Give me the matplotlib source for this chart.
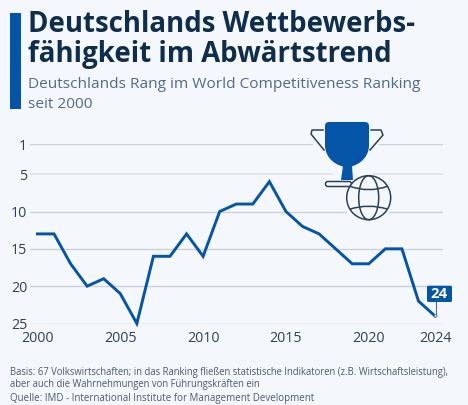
import numpy as np
import matplotlib
matplotlib.use('Agg')
from matplotlib import pyplot as plt
from matplotlib.patches import Rectangle, FancyBboxPatch, Ellipse, Circle, PathPatch
from matplotlib.path import Path

plt.rcParams['font.family'] = ['Open Sans', 'DejaVu Sans']

years = list(range(2000, 2025))
rank = [13, 13, 17, 20, 19, 21, 25, 16, 16, 13, 16, 10, 9, 9, 6, 10, 12, 13, 15, 17, 17, 15, 15, 22, 24]
y_ticks = [1, 5, 10, 15, 20, 25]
x_ticks = [2000, 2005, 2010, 2015, 2020, 2024]
title_lines = ['Deutschlands Wettbewerbs-', 'fähigkeit im Abwärtstrend']
subtitle_lines = ['Deutschlands Rang im World Competitiveness Ranking', 'seit 2000']
note_lines = ['Basis: 67 Volkswirtschaften; in das Ranking fließen statistische Indikatoren (z.B. Wirtschaftsleistung),',
              'aber auch die Wahrnehmungen von Führungskräften ein',
              'Quelle: IMD - International Institute for Management Development']

BG = '#f4f8fc'
BLUE = '#0454a8'
NAVY = '#0f2d4d'
DARK = '#2c4058'
W, H = 468, 405

fig = plt.figure(figsize=(W / 100, H / 100), dpi=100, facecolor=BG)

# chart axes, pixel box
ax = fig.add_axes([30 / W, 1 - 323.5 / H, 413 / W, 179.2 / H], facecolor='none')
ax.set_xlim(1999.55, 2024.48)
ax.set_ylim(25, 1)
for s in ax.spines.values():
    s.set_visible(False)
ax.set_yticks(y_ticks)
ax.set_xticks(x_ticks)
ax.tick_params(axis='y', length=0, labelsize=10.3, labelcolor='#2f4058', pad=2)
ax.tick_params(axis='x', length=0, labelsize=10.3, labelcolor='#2f4058', pad=5.5)
for t in y_ticks:
    ax.axhline(t, color='#e1e5eb' if t == 5 else '#cbd1db', lw=1.3 if t == 5 else 1, zorder=1)
ax.plot(years, rank, color=BLUE, lw=2.1, solid_joinstyle='miter', zorder=3, clip_on=False)

# overlay in pixel coordinates for title bar, icon and label
ov = fig.add_axes([0, 0, 1, 1], facecolor='none')
ov.set_xlim(0, W)
ov.set_ylim(H, 0)
ov.axis('off')

ov.add_patch(Rectangle((10, 13), 11, 96, color=BLUE, lw=0))
for i, line in enumerate(title_lines):
    ov.text(28.5, 24 + i * 30.5, line, fontsize=19.9, fontweight='bold', color=NAVY, va='center', ha='left')
for i, line in enumerate(subtitle_lines):
    ov.text(28, 85 + i * 19, line, fontsize=11.05, color='#54688a', va='center', ha='left')
for line, y, fs in zip(note_lines, [373, 385, 399], [6.85, 6.85, 7.05]):
    ov.text(10, y, line, fontsize=fs, color='#4a5a70', va='center', ha='left')

# gaps in the gridlines around the icon
for x0, x1, y in [(313, 379, 144.3), (333, 373, 174), (347, 389, 211.5)]:
    ov.add_patch(Rectangle((x0, y - 2), x1 - x0, 4, color=BG, lw=0))

# trophy
cup = Path([(325, 126), (325, 122), (329, 122), (365, 122), (369, 122), (369, 126), (369, 145),
            (369, 160), (355, 167), (347, 167), (339, 167), (325, 160), (325, 145), (325, 126)],
           [Path.MOVETO, Path.CURVE3, Path.CURVE3, Path.LINETO, Path.CURVE3, Path.CURVE3, Path.LINETO,
            Path.CURVE4, Path.CURVE4, Path.CURVE4, Path.CURVE4, Path.CURVE4, Path.CURVE4, Path.CLOSEPOLY])
ov.add_patch(PathPatch(cup, fc=BLUE, ec='none'))
ov.fill([343, 352, 353, 341], [166, 166, 180, 180], color=BLUE, lw=0)
ov.plot([323, 312, 311, 324], [130, 130, 134, 150], color=DARK, lw=1.1)
ov.plot([371, 381, 383, 370], [130, 130, 135, 150], color=DARK, lw=1.1)
ov.add_patch(FancyBboxPatch((325.5, 181.5), 26, 5, boxstyle='round,pad=0,rounding_size=2.4',
                            fc='none', ec=DARK, lw=1.1))

# globe
gx, gy = 368.7, 197.7
ov.add_patch(Circle((gx, gy), 22, fc=BG, ec=DARK, lw=1.1, zorder=4))
ov.add_patch(Ellipse((gx, gy), 20, 44, fc='none', ec=DARK, lw=1.1, zorder=5))
for a, b in [(-11.5, -8), (11.5, 8.5)]:
    arc = Path([(gx - 19, gy + a), (gx, gy + 2 * b - a), (gx + 19, gy + a)], [Path.MOVETO, Path.CURVE3, Path.CURVE3])
    ov.add_patch(PathPatch(arc, fc='none', ec=DARK, lw=1.1, zorder=5))

# end label
ov.plot([435.5, 435.5], [300, 315.5], color='#5a6a80', lw=0.8, zorder=6)
ov.add_patch(Circle((435.5, 315.8), 1.4, fc='white', ec='#5a6a80', lw=0.6, zorder=7))
ov.add_patch(FancyBboxPatch((427, 285.7), 25, 16.3, boxstyle='round,pad=0,rounding_size=1.5',
                            fc=BLUE, ec='none', zorder=7))
ov.text(439.5, 293.5, str(rank[-1]), fontsize=10.8, fontweight='bold', color='white', ha='center', va='center', zorder=8)

fig.savefig('out.png', dpi=100, facecolor=BG)
